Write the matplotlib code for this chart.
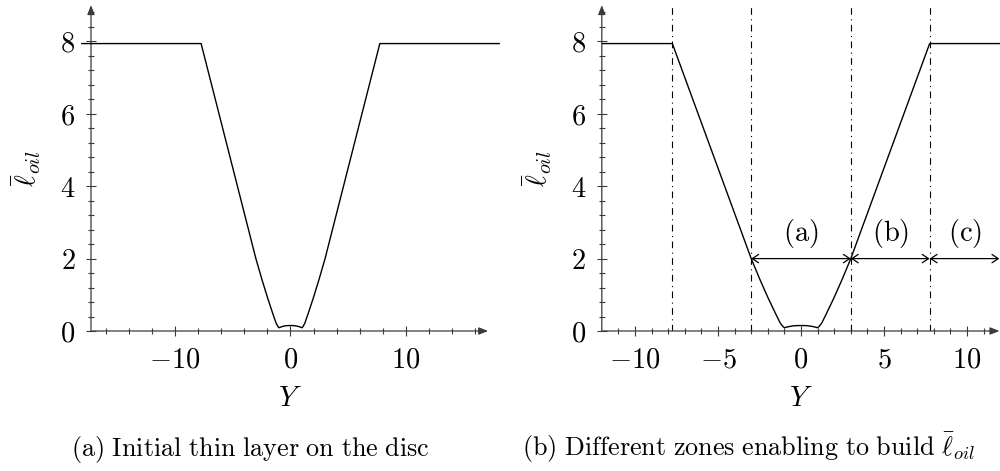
import matplotlib
matplotlib.use("Agg")
import matplotlib.pyplot as plt
from matplotlib.ticker import MultipleLocator, FuncFormatter
from matplotlib.transforms import blended_transform_factory

plt.rcParams["mathtext.fontset"] = "cm"
plt.rcParams["font.family"] = "DejaVu Serif"

# Oil layer thickness profile across the disc
Y = [-18.1, -7.75, -3.0, -2.5, -2.0, -1.5, -1.25, -1.1, -1.0, -0.75, -0.5, -0.25, 0.0,
     0.25, 0.5, 0.75, 1.0, 1.1, 1.25, 1.5, 2.0, 2.5, 3.0, 7.75, 18.1]
L_OIL = [7.94, 7.94, 2.0, 1.45, 0.93, 0.45, 0.22, 0.13, 0.09, 0.12, 0.14, 0.15, 0.15,
         0.15, 0.14, 0.12, 0.09, 0.13, 0.22, 0.45, 0.93, 1.45, 2.0, 7.94, 7.94]

# Zone construction (right panel)
section_lines = [-7.75, -3.0, 3.0, 7.75]
zone_bounds = [-3.0, 3.0, 7.75, 11.95]
zone_names = ["(a)", "(b)", "(c)"]
zone_level = 2.0

y_major = [0, 2, 4, 6, 8]
captions = [r"$\mathrm{(a)\ Initial\ thin\ layer\ on\ the\ disc}$",
            r"$\mathrm{(b)\ Different\ zones\ enabling\ to\ build}\ \bar{\ell}_{oil}$"]

FS = 20.5
CAP_FS = 18.8
AX_COLOR = "#3a3a3a"
W, H = 1000, 471

fig = plt.figure(figsize=(W / 100, H / 100), dpi=100)

px_y = 36.2
ymax = 9.0
bottom = 140 / H
height = ymax * px_y / H

# left panel: x from -17.3, axis arrow ends at 17.14
l_xmin, l_xend, l_xmax = -17.3, 17.14, 18.1
ax1 = fig.add_axes([91 / W, bottom, (l_xmax - l_xmin) * 11.53 / W, height])
# right panel
r_xmin, r_xend, r_xmax = -12.0, 11.95, 12.0
ax2 = fig.add_axes([601.8 / W, bottom, (r_xmax - r_xmin) * 16.6 / W, height])

fmt = FuncFormatter(lambda v, p: r"$%g$" % v if abs(v) > 1e-9 else r"$0$")


def style_axis(ax, xmin, xend, xmax, xmajor, xminor):
    ax.set_xlim(xmin, xmax)
    ax.set_ylim(0, ymax)
    for s in ax.spines.values():
        s.set_visible(False)
    ax.patch.set_visible(False)
    ax.xaxis.set_major_locator(MultipleLocator(xmajor))
    ax.xaxis.set_minor_locator(MultipleLocator(xminor))
    ax.set_yticks(y_major)
    ax.yaxis.set_minor_locator(MultipleLocator(0.4))
    ax.xaxis.set_major_formatter(fmt)
    ax.yaxis.set_major_formatter(fmt)
    ax.tick_params(which="major", direction="inout", length=6.5, width=0.8,
                   color=AX_COLOR, labelsize=FS, pad=8)
    ax.tick_params(which="minor", direction="inout", length=4.3, width=0.8,
                   color=AX_COLOR)
    ax.tick_params(axis="x", which="both", top=False)
    ax.tick_params(axis="y", which="both", right=False)
    # keep ticks only along the drawn axis
    ax.set_xticks([t for t in ax.get_xticks(minor=True) if xmin < t < xend], minor=True)
    ax.set_xticks([t for t in ax.get_xticks() if xmin <= t < xend])
    ax.set_yticks([t for t in ax.get_yticks(minor=True) if 0 < t < ymax - 0.1], minor=True)
    ax.set_xlim(xmin, xmax)
    ax.set_ylim(0, ymax)
    arrow = dict(arrowstyle="-|>,head_length=0.55,head_width=0.22", color=AX_COLOR,
                 lw=0.9, shrinkA=0, shrinkB=0, mutation_scale=10)
    ax.annotate("", xy=(xend, 0), xytext=(xmin, 0), arrowprops=arrow,
                annotation_clip=False)
    ax.annotate("", xy=(xmin, ymax), xytext=(xmin, 0), arrowprops=arrow,
                annotation_clip=False)
    xmid = (xmin + xend) / 2
    tr = blended_transform_factory(ax.transData, ax.transAxes)
    ax.text(xmid, -67 / (ymax * px_y), r"$Y$", transform=tr, ha="center",
            va="center", fontsize=FS)
    ax.set_ylabel(r"$\bar{\ell}_{oil}$", fontsize=FS, labelpad=12)


style_axis(ax1, l_xmin, l_xend, l_xmax, 10, 2)
style_axis(ax2, r_xmin, r_xend, r_xmax, 5, 1)

ax1.plot(Y, L_OIL, color="black", lw=1.0, clip_on=False, zorder=3)
ax2.plot(Y, L_OIL, color="black", lw=1.0, zorder=3)

# section boundaries
for xv in section_lines:
    ax2.plot([xv, xv], [0, ymax], color="black", lw=0.8,
             dashes=(6, 4, 1, 4), zorder=2)

# zone arrows and labels
for a, b, name in zip(zone_bounds[:-1], zone_bounds[1:], zone_names):
    ax2.annotate("", xy=(b, zone_level), xytext=(a, zone_level),
                 arrowprops=dict(arrowstyle="<->,head_length=0.45,head_width=0.3",
                                 color="black", lw=0.9, shrinkA=0, shrinkB=0,
                                 mutation_scale=10),
                 annotation_clip=False)
    ax2.text((a + b) / 2, zone_level + 0.7, r"$\mathrm{%s}$" % name, ha="center",
             va="center", fontsize=FS)

fig.text(0.25, 15 / H, captions[0], ha="center", va="baseline", fontsize=CAP_FS)
fig.text(0.749, 15 / H, captions[1], ha="center", va="baseline", fontsize=CAP_FS)

fig.savefig("out.png", dpi=100)
